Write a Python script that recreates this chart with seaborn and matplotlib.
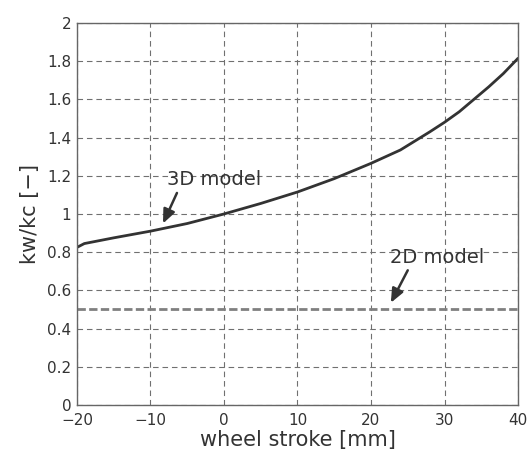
import matplotlib
matplotlib.use("Agg")
import matplotlib.pyplot as plt
import seaborn as sns
import pandas as pd

# curve
stroke = [-20, -19, -15, -10, -5, 0, 5, 10, 15, 20, 24, 28, 30, 32, 34, 36, 38, 40]
ratio_3d = [0.825, 0.845, 0.875, 0.91, 0.95, 1.0, 1.055, 1.115, 1.185, 1.265,
            1.335, 1.43, 1.48, 1.535, 1.6, 1.665, 1.735, 1.815]
stroke_2d = [-20, 40]
ratio_2d = [0.505, 0.505]

xticks = [-20, -10, 0, 10, 20, 30, 40]
yticks = [0, 0.2, 0.4, 0.6, 0.8, 1, 1.2, 1.4, 1.6, 1.8, 2]

sns.set_theme(style="white")
plt.rcParams['font.family'] = ['DejaVu Sans']

fig = plt.figure(figsize=(5.32, 4.55), dpi=100)
ax = fig.add_axes([0.1447, 0.11, 0.829, 0.8395])

df3 = pd.DataFrame({'x': stroke, 'y': ratio_3d})
df2 = pd.DataFrame({'x': stroke_2d, 'y': ratio_2d})
sns.lineplot(data=df3, x='x', y='y', ax=ax, color='#333333', linewidth=2)
sns.lineplot(data=df2, x='x', y='y', ax=ax, color='#808080', linewidth=2,
             linestyle=(0, (3, 1.2)))

ax.set_xlim(-20, 40)
ax.set_ylim(0, 2)
ax.set_xticks(xticks)
ax.set_yticks(yticks)
ax.set_xticklabels(['\u221220', '\u221210', '0', '10', '20', '30', '40'])
ax.set_yticklabels(['0', '0.2', '0.4', '0.6', '0.8', '1', '1.2', '1.4', '1.6', '1.8', '2'])
ax.tick_params(labelsize=11, colors='#333333', length=0)
ax.tick_params(axis='x', pad=6)
ax.tick_params(axis='y', pad=4)
ax.grid(True, color='#707070', linestyle=(0, (5, 3.5)), linewidth=0.8)
for s in ax.spines.values():
    s.set_color('#666666')
    s.set_linewidth(1)

ax.set_xlabel('wheel stroke [mm]', fontsize=15, color='#333333', labelpad=1)
ax.set_ylabel('kw/kc [\u2212]', fontsize=15, color='#333333', labelpad=5)

arrow = dict(arrowstyle='-|>,head_width=0.3,head_length=0.7',
             color='#333333', lw=1.8, shrinkA=0, shrinkB=0)
ax.text(-1.4, 1.18, '3D model', fontsize=14, color='#333333', ha='center', va='center')
ax.annotate('', xy=(-8.3, 0.95), xytext=(-6.4, 1.11), arrowprops=arrow)
ax.text(29.0, 0.77, '2D model', fontsize=14, color='#333333', ha='center', va='center')
ax.annotate('', xy=(22.7, 0.535), xytext=(25.0, 0.705), arrowprops=arrow)

fig.savefig('out.png', dpi=100)
